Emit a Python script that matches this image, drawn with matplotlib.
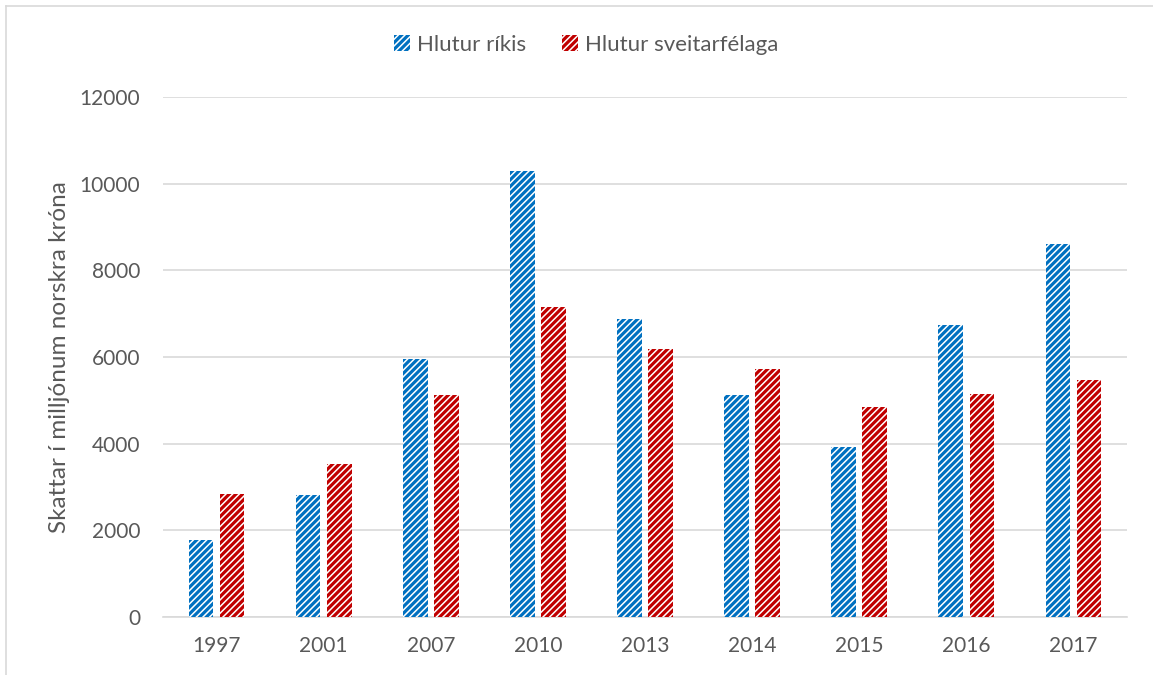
import matplotlib
matplotlib.use("Agg")
import matplotlib.pyplot as plt
import numpy as np
from matplotlib.lines import Line2D

years = ["1997", "2001", "2007", "2010", "2013", "2014", "2015", "2016", "2017"]
rikis = [1770, 2810, 5950, 10290, 6880, 5120, 3920, 6740, 8600]
sveitarfelaga = [2830, 3530, 5120, 7150, 6180, 5720, 4840, 5140, 5460]
series_names = ["Hlutur ríkis", "Hlutur sveitarfélaga"]
yticks = [0, 2000, 4000, 6000, 8000, 10000, 12000]

plt.rcParams['font.family'] = ['Lato', 'DejaVu Sans']
plt.rcParams['hatch.linewidth'] = 1.1

fig = plt.figure(figsize=(11.53, 6.75), dpi=100)
ax = fig.add_axes([163/1153, 1-617/675, (1127-163)/1153, (617-97)/675])

x = np.arange(len(years))
w = 0.23
off = 0.145
b1 = ax.bar(x - off, rikis, w, color="#0070C0", edgecolor="white", linewidth=0, hatch="/////", label=series_names[0], zorder=3)
b2 = ax.bar(x + off, sveitarfelaga, w, color="#C00000", edgecolor="white", linewidth=0, hatch="/////", label=series_names[1], zorder=3)

ax.set_xlim(-0.5, len(years) - 0.5)
ax.set_ylim(0, 12000)
ax.set_yticks(yticks)
ax.set_yticklabels([str(v) for v in yticks])
ax.set_xticks(x)
ax.set_xticklabels(years)
ax.yaxis.grid(True, color="#D9D9D9", linewidth=1.2, zorder=0)
ax.set_axisbelow(True)
for s in ["top", "right", "left"]:
    ax.spines[s].set_visible(False)
ax.spines["bottom"].set_color("#D9D9D9")
ax.spines["bottom"].set_linewidth(1.2)
ax.tick_params(axis="both", length=0, labelsize=15, colors="#595959")
ax.tick_params(axis="y", pad=16.5)
ax.tick_params(axis="x", pad=14)
ax.set_ylabel("Skattar í milljónum norskra króna", fontsize=17.5, color="#595959", labelpad=7)

leg = fig.legend(handles=[b1, b2], labels=series_names, loc="center", bbox_to_anchor=(586/1153, 1-45/675),
                 ncol=2, frameon=False, fontsize=16, handlelength=0.75, handleheight=0.75,
                 handletextpad=0.3, columnspacing=1.6)
for t in leg.get_texts():
    t.set_color("#595959")

# outer chart border (partially visible)
fig.add_artist(Line2D([6/1153, 1.0], [1-6/675, 1-6/675], transform=fig.transFigure, color="#D9D9D9", linewidth=1.2))
fig.add_artist(Line2D([6/1153, 6/1153], [0, 1-6/675], transform=fig.transFigure, color="#D9D9D9", linewidth=1.2))

fig.savefig("out.png", dpi=100)
